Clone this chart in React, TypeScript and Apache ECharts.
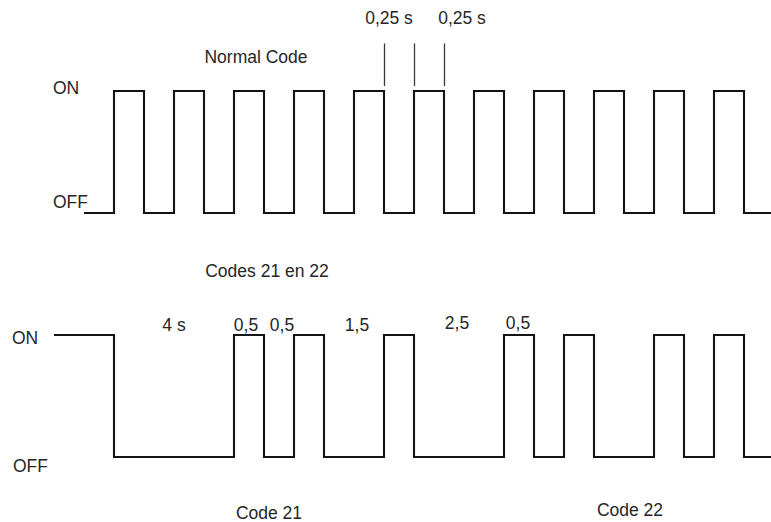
import React, { useEffect, useRef } from "react";
import * as echarts from "echarts";

// Signal levels (y values): top trace ON=3 / OFF=2, bottom trace ON=1 / OFF=0
const topLevels = { ON: 3, OFF: 2 };
const bottomLevels = { ON: 1, OFF: 0 };

// Normal code trace: start time, start state, transition times, end time (seconds)
const topStart = 0;
const topStartState = "OFF";
const topEdges = [
  0.25, 0.5, 0.75, 1.0, 1.25, 1.5, 1.75, 2.0, 2.25, 2.5, 2.75,
  3.0, 3.25, 3.5, 3.75, 4.0, 4.25, 4.5, 4.75, 5.0, 5.25, 5.5,
];
const topEnd = 5.725;

// Codes 21 en 22 trace
const bottomStart = -0.25;
const bottomStartState = "ON";
const bottomEdges = [
  0.25, 1.25, 1.5, 1.75, 2.0, 2.5, 2.75, 3.5, 3.75, 4.0, 4.25, 4.75, 5.0, 5.25, 5.5,
];
const bottomEnd = 5.725;

// Timing marks above the top trace
const markTimes = [2.5, 2.75, 3.0];
const markFrom = 3.04;
const markTo = 3.39;

const FONT = '"Liberation Sans", Arial, Helvetica, sans-serif';

function buildTrace(
  start: number,
  startState: string,
  edges: number[],
  end: number,
  levels: { ON: number; OFF: number }
) {
  let state = startState;
  const pts: number[][] = [[start, (levels as any)[state]]];
  for (const t of edges) {
    pts.push([t, (levels as any)[state]]);
    state = state === "ON" ? "OFF" : "ON";
    pts.push([t, (levels as any)[state]]);
  }
  pts.push([end, (levels as any)[state]]);
  return pts;
}

function txt(text: string, x: number, y: number, align: string = "center") {
  return {
    type: "text",
    x,
    y,
    style: {
      text,
      fill: "#262626",
      fontSize: 17.5,
      fontFamily: FONT,
      align,
      verticalAlign: "middle",
    },
  };
}

export default function App() {
  const ref = useRef<HTMLDivElement>(null);
  useEffect(() => {
    document.body.style.margin = "0";
    const chart = echarts.init(ref.current!, null, { renderer: "svg" });
    const lineStyle = { color: "#141414", width: 2.1, join: "miter", cap: "butt" };
    chart.setOption({
      animation: false,
      backgroundColor: "#ffffff",
      grid: { left: 24, width: 747, top: 30, height: 488 },
      xAxis: { type: "value", min: -0.5, max: 5.725, show: false },
      yAxis: { type: "value", min: -0.5, max: 3.5, show: false, splitLine: { show: false } },
      series: [
        {
          type: "line",
          name: "Normal Code",
          data: buildTrace(topStart, topStartState, topEdges, topEnd, topLevels),
          symbol: "none",
          lineStyle,
          clip: false,
          markLine: {
            silent: true,
            symbol: ["none", "none"],
            label: { show: false },
            lineStyle: { color: "#3a3a3a", width: 1.3, type: "solid" },
            data: markTimes.map((t) => [{ coord: [t, markFrom] }, { coord: [t, markTo] }]),
          },
        },
        {
          type: "line",
          name: "Codes 21 en 22",
          data: buildTrace(bottomStart, bottomStartState, bottomEdges, bottomEnd, bottomLevels),
          symbol: "none",
          lineStyle,
          clip: false,
        },
      ],
      graphic: [
        txt("0,25 s", 389, 18),
        txt("0,25 s", 462, 18),
        txt("Normal Code", 256, 57),
        txt("ON", 53, 88, "left"),
        txt("OFF", 53, 202, "left"),
        txt("Codes 21 en 22", 267, 271),
        txt("ON", 12, 338, "left"),
        txt("OFF", 13, 466, "left"),
        txt("4 s", 174, 325),
        txt("0,5", 246, 325),
        txt("0,5", 282, 325),
        txt("1,5", 357, 325),
        txt("2,5", 457, 323),
        txt("0,5", 518, 323),
        txt("Code 21", 269, 513),
        txt("Code 22", 630, 510),
      ],
    });
    return () => chart.dispose();
  }, []);
  return <div ref={ref} style={{ width: 771, height: 522 }} />;
}
